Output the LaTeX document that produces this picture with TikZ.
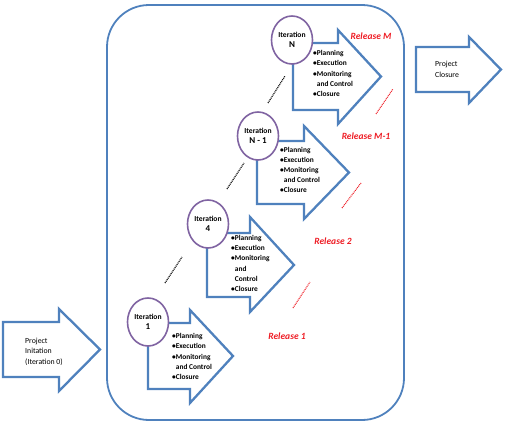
\documentclass[tikz,border=0pt]{standalone}
\usepackage{fontspec}
\setmainfont{Carlito}
\usetikzlibrary{shapes.geometric}
\definecolor{ablue}{RGB}{79,129,189}
\definecolor{apurple}{RGB}{128,100,162}
\definecolor{ared}{RGB}{238,28,36}
\newcommand\blockarrow[7]{%
  \draw[arrowline] (#1,#2) -- (#4,#2) -- (#4,#5) -- (#7,{(#2+#3)/2}) -- (#4,#6) -- (#4,#3) -- (#1,#3) -- cycle;}
\newcommand\itnum[1]{{\fontsize{9}{10.5}\selectfont #1}}
\begin{document}
\begin{tikzpicture}[x=1pt,y=-1pt,
  arrowline/.style={draw=ablue,line width=2.3pt,line join=miter,fill=white},
  iter/.style={ellipse,draw=apurple,line width=1.6pt,fill=white,minimum width=41pt,minimum height=48pt,inner sep=0pt,align=center,font=\fontsize{7.6}{10.5}\selectfont\bfseries},
  steps/.style={anchor=west,inner sep=0pt,align=left,font=\fontsize{7.4}{10.2}\selectfont\bfseries},
  plain/.style={anchor=west,inner sep=0pt,align=left,font=\fontsize{7.8}{10.5}\selectfont},
  rel/.style={text=ared,font=\fontsize{9.5}{11}\selectfont\bfseries\itshape,inner sep=0pt},
  blackdots/.style={line width=1.2pt,dash pattern=on 0.9pt off 0.9pt},
  reddots/.style={draw=ared,line width=1.1pt,dash pattern=on 0.9pt off 0.9pt}]
\useasboundingbox (0,0) rectangle (507,439);
\node[draw=ablue,line width=1.8pt,rounded corners=42pt,minimum width=297pt,minimum height=415pt,inner sep=0pt] (box) at (255.5,212.5) {};
% project arrows
\blockarrow{3}{322}{377}{59}{309}{391}{100}
\node[plain] (init) at (25,351.5) {Project\\Initation\\(Iteration 0)};
\blockarrow{416}{47}{92}{469}{37}{103}{501}
\node[plain] (close) at (435,69.5) {Project\\Closure};
% iteration arrows
\blockarrow{148}{323}{389}{190}{310}{403}{233}
\blockarrow{207}{233}{297}{250}{217}{312}{294}
\blockarrow{257}{141}{204}{304}{126}{219}{349}
\blockarrow{293}{43}{110}{338}{30}{124}{381}
% ellipses
\node[iter] (it1) at (148,322) {Iteration\\\itnum{1}};
\node[iter] (it4) at (208,224) {Iteration\\\itnum{4}};
\node[iter] (itn1) at (258,136) {Iteration\\\itnum{N - 1}};
\node[iter] (itn) at (292,40) {Iteration\\\itnum{N}};
% step lists
\node[steps] (s1) at (172,356.5) {\textbullet Planning\\\textbullet Execution\\\textbullet Monitoring\\\phantom{\textbullet}and Control\\\textbullet Closure};
\node[steps] (s4) at (231,263.5) {\textbullet Planning\\\textbullet Execution\\\textbullet Monitoring\\\phantom{\textbullet}and\\\phantom{\textbullet}Control\\\textbullet Closure};
\node[steps] (sn1) at (280,170) {\textbullet Planning\\\textbullet Execution\\\textbullet Monitoring\\\phantom{\textbullet}and Control\\\textbullet Closure};
\node[steps] (sn) at (313,73.5) {\textbullet Planning\\\textbullet Execution\\\textbullet Monitoring\\\phantom{\textbullet}and Control\\\textbullet Closure};
% releases
\node[rel] (r1) at (287,336) {Release 1};
\node[rel] (r2) at (333,241) {Release 2};
\node[rel] (rm1) at (366,136) {Release M-1};
\node[rel] (rm) at (371,36) {Release M};
% dotted lines
\coordinate (b1a) at (165,283); \coordinate (b1b) at (182,257);
\coordinate (b2a) at (227,189); \coordinate (b2b) at (244,163);
\coordinate (b3a) at (268,103); \coordinate (b3b) at (285,76);
\draw[blackdots] (b1a) -- (b1b);
\draw[blackdots] (b2a) -- (b2b);
\draw[blackdots] (b3a) -- (b3b);
\coordinate (r1a) at (293,308); \coordinate (r1b) at (310,282);
\coordinate (r2a) at (342,208); \coordinate (r2b) at (361,183);
\coordinate (r3a) at (376,114); \coordinate (r3b) at (393,89);
\draw[reddots] (r1a) -- (r1b);
\draw[reddots] (r2a) -- (r2b);
\draw[reddots] (r3a) -- (r3b);
\end{tikzpicture}
\end{document}
